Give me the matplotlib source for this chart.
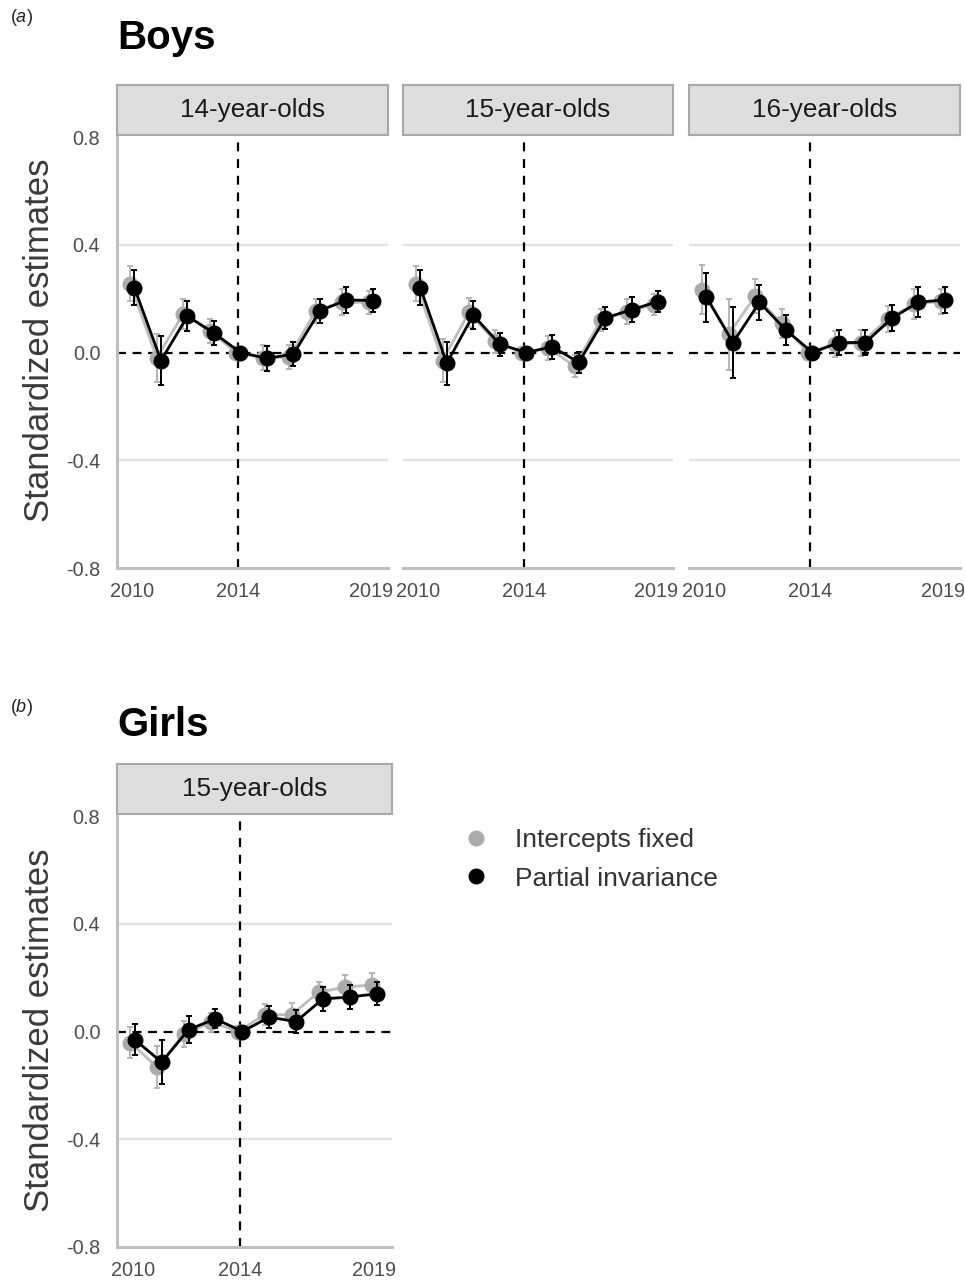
#!/usr/bin/env python3
import numpy as np
import matplotlib
matplotlib.use('Agg')
import matplotlib.pyplot as plt
from matplotlib.lines import Line2D

plt.rcParams['font.family'] = ['Liberation Sans', 'DejaVu Sans']
plt.rcParams['mathtext.fontset'] = 'custom'
plt.rcParams['mathtext.rm'] = 'Liberation Sans'
plt.rcParams['mathtext.it'] = 'Liberation Sans:italic'

years = np.arange(2010, 2020)

# boys, 14-year-olds
boys14_fixed = [0.255, -0.02, 0.143, 0.08, 0.0, -0.019, -0.016, 0.155, 0.186, 0.186]
boys14_fixed_err = [0.065, 0.09, 0.056, 0.045, 0.0, 0.045, 0.045, 0.045, 0.048, 0.044]
boys14_partial = [0.24, -0.03, 0.135, 0.072, 0.0, -0.022, -0.006, 0.155, 0.195, 0.193]
boys14_partial_err = [0.065, 0.09, 0.056, 0.045, 0.0, 0.045, 0.045, 0.045, 0.048, 0.044]

# boys, 15-year-olds
boys15_fixed = [0.255, -0.03, 0.149, 0.041, 0.0, 0.016, -0.05, 0.12, 0.151, 0.178]
boys15_fixed_err = [0.065, 0.08, 0.053, 0.043, 0.0, 0.045, 0.04, 0.042, 0.046, 0.04]
boys15_partial = [0.24, -0.04, 0.139, 0.031, 0.0, 0.021, -0.037, 0.128, 0.159, 0.189]
boys15_partial_err = [0.065, 0.08, 0.053, 0.043, 0.0, 0.045, 0.04, 0.042, 0.046, 0.04]

# boys, 16-year-olds
boys16_fixed = [0.233, 0.068, 0.209, 0.108, 0.0, 0.031, 0.035, 0.124, 0.18, 0.19]
boys16_fixed_err = [0.09, 0.132, 0.063, 0.055, 0.0, 0.047, 0.047, 0.048, 0.055, 0.047]
boys16_partial = [0.205, 0.037, 0.186, 0.083, 0.0, 0.037, 0.037, 0.127, 0.187, 0.195]
boys16_partial_err = [0.09, 0.133, 0.066, 0.055, 0.0, 0.047, 0.047, 0.048, 0.055, 0.047]

# girls, 15-year-olds
girls15_fixed = [-0.042, -0.133, -0.009, 0.035, 0.0, 0.063, 0.062, 0.146, 0.165, 0.173]
girls15_fixed_err = [0.058, 0.078, 0.049, 0.035, 0.0, 0.04, 0.043, 0.037, 0.043, 0.043]
girls15_partial = [-0.03, -0.114, 0.007, 0.047, 0.0, 0.053, 0.037, 0.121, 0.128, 0.14]
girls15_partial_err = [0.058, 0.082, 0.049, 0.035, 0.0, 0.04, 0.043, 0.044, 0.043, 0.043]

yticks = [-0.8, -0.4, 0.0, 0.4, 0.8]
ytick_labels = ['-0.8', '-0.4', '0.0', '0.4', '0.8']
xticks = [2010, 2014, 2019]
series_labels = ['Intercepts fixed', 'Partial invariance']

W, H = 965, 1281
GREY = '#ababab'
GREY_LINE = '#bdbdbd'
AXIS_GREY = '#bfbfbf'
TXT = '#4d4d4d'
MS = 10.5

fig = plt.figure(figsize=(W / 100, H / 100), dpi=100)


def px_axes(l, t, r, b):
    return fig.add_axes([l / W, 1 - b / H, (r - l) / W, (b - t) / H])


def strip(l, t, r, b, label):
    sax = px_axes(l, t, r, b)
    sax.set_facecolor('#dedede')
    sax.set_xticks([])
    sax.set_yticks([])
    for sp in sax.spines.values():
        sp.set_color('#a9a9a9')
        sp.set_linewidth(1.5)
    sax.text(0.5, 0.5, label, ha='center', va='center', fontsize=18.8,
             color='#1a1a1a', transform=sax.transAxes)


def panel(l, t, r, b, fixed, fixed_err, partial, partial_err, first):
    ax = px_axes(l, t, r, b)
    ax.set_xlim(2009.42, 2019.65)
    ax.set_ylim(-0.8, 0.8)
    for yy in [-0.4, 0.4]:
        ax.axhline(yy, color='#e3e3e3', lw=1.6, zorder=0)
    ax.axhline(0, color='black', lw=1.6, ls=(0, (4, 3)), zorder=1)
    ax.axvline(2014, color='black', lw=1.6, ls=(0, (4, 3.5)), zorder=1)

    x = years.astype(float)
    ax.errorbar(x - 0.08, fixed, yerr=fixed_err, color=GREY_LINE, ecolor='#b5b5b5',
                elinewidth=1.4, capsize=2.2, capthick=1.4, lw=2, marker='o',
                ms=MS, mfc=GREY, mec=GREY, zorder=2)
    ax.errorbar(x + 0.08, partial, yerr=partial_err, color='black', ecolor='black',
                elinewidth=1.4, capsize=2.2, capthick=1.4, lw=2, marker='o',
                ms=MS, mfc='black', mec='black', zorder=3)

    ax.set_xticks(xticks)
    ax.set_xticklabels([str(v) for v in xticks])
    ax.set_yticks(yticks)
    ax.tick_params(length=0, labelsize=14.3, labelcolor=TXT)
    ax.tick_params(axis='x', pad=10)
    ax.tick_params(axis='y', pad=12)
    if first:
        ax.set_yticklabels(ytick_labels)
    else:
        ax.set_yticklabels([])
    for name in ['top', 'right']:
        ax.spines[name].set_visible(False)
    ax.spines['left'].set_visible(first)
    for name in ['left', 'bottom']:
        ax.spines[name].set_color(AXIS_GREY)
        ax.spines[name].set_linewidth(2.2)
    return ax


# (a) boys
boys_panels = [
    (117, 388, '14-year-olds', boys14_fixed, boys14_fixed_err, boys14_partial, boys14_partial_err),
    (403, 673, '15-year-olds', boys15_fixed, boys15_fixed_err, boys15_partial, boys15_partial_err),
    (689, 960, '16-year-olds', boys16_fixed, boys16_fixed_err, boys16_partial, boys16_partial_err),
]
for i, (l, r, lab, f, fe, p, pe) in enumerate(boys_panels):
    strip(l, 85, r, 135, lab)
    panel(l, 137, r, 568, f, fe, p, pe, i == 0)

# (b) girls
strip(117, 764, 392, 814, '15-year-olds')
panel(117, 816, 392, 1247, girls15_fixed, girls15_fixed_err, girls15_partial, girls15_partial_err, True)

fig.text(10 / W, 1 - 18 / H, r'($\mathit{a}$)', fontsize=13, color='#222222', va='center')
fig.text(10 / W, 1 - 708 / H, r'($\mathit{b}$)', fontsize=13, color='#222222', va='center')
fig.text(117 / W, 1 - 38 / H, 'Boys', fontsize=29, fontweight='bold', va='center')
fig.text(117 / W, 1 - 725 / H, 'Girls', fontsize=29, fontweight='bold', va='center')

fig.text(40 / W, 1 - 340 / H, 'Standardized estimates', rotation=90, fontsize=25,
         color='#3a3a3a', ha='center', va='center')
fig.text(40 / W, 1 - 1030 / H, 'Standardized estimates', rotation=90, fontsize=25,
         color='#3a3a3a', ha='center', va='center')

handles = [Line2D([], [], ls='none', marker='o', ms=MS, mfc=GREY, mec=GREY),
           Line2D([], [], ls='none', marker='o', ms=MS, mfc='black', mec='black')]
fig.legend(handles, series_labels, loc='upper left', bbox_to_anchor=(450 / W, 1 - 828 / H),
           frameon=False, fontsize=19, labelcolor='#333333', handletextpad=0.45,
           labelspacing=0.55, borderpad=0, borderaxespad=0)

fig.savefig('out.png', dpi=100)
